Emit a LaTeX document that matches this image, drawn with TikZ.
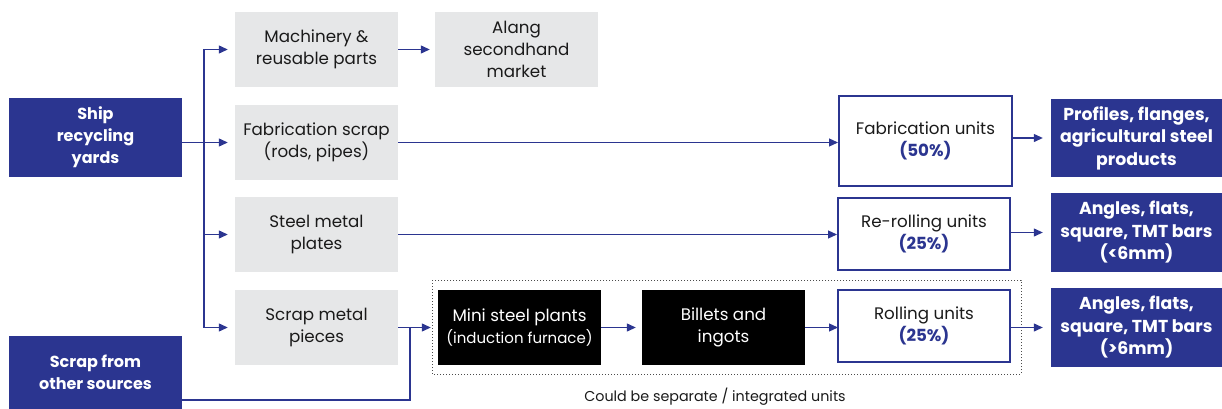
\documentclass[tikz,border=0pt]{standalone}
\usepackage{fontspec}
\setmainfont{Poppins}
\usetikzlibrary{arrows.meta}
\definecolor{navy}{HTML}{2B3590}
\definecolor{lgray}{HTML}{E6E7E8}
\definecolor{txt}{HTML}{1A1A1A}
\begin{document}
\begin{tikzpicture}[x=1pt,y=-1pt,
  font=\fontsize{16.7}{22}\selectfont,
  every node/.style={inner sep=0pt, align=center},
  gbox/.style={fill=lgray, text=txt, minimum width=163pt, minimum height=75pt},
  nbox/.style={fill=navy, text=white, font=\fontsize{16}{22}\selectfont\bfseries},
  pbox/.style={fill=navy, text=white, font=\fontsize{17.3}{22.5}\selectfont\bfseries},
  ubox/.style={draw=navy, line width=2pt, fill=white, text=txt},
  kbox/.style={fill=black, text=white, minimum width=163pt, minimum height=75pt},
  arr/.style={draw=navy, line width=1.2pt, -{Triangle[length=9pt,width=8pt]}},
  ln/.style={draw=navy, line width=1.2pt}
]
\useasboundingbox (0,0) rectangle (1222,409);
% dotted frame
\draw[dotted, line width=1pt, black!70] (432,280) rectangle (1021,374);
% left sources
\node[nbox, minimum width=173pt, minimum height=79pt] (ship) at (95.5,137.5) {Ship\\recycling\\yards};
\node[nbox, minimum width=173pt, minimum height=73pt] (other) at (95.5,372.5) {Scrap from\\other sources};
% gray boxes
\node[gbox] (mach) at (316.5,49.5) {Machinery \&\\reusable parts};
\node[gbox] (fab) at (316.5,142.5) {Fabrication scrap\\(rods, pipes)};
\node[gbox] (plates) at (316.5,234.5) {Steel metal\\plates};
\node[gbox] (pieces) at (316.5,327.5) {Scrap metal\\pieces};
\node[gbox] (alang) at (516.5,49.5) {Alang\\secondhand\\market};
% black boxes
\node[kbox] (mini) at (519.5,327.5) {Mini steel plants\\{\fontsize{15}{20}\selectfont(induction furnace)}};
\node[kbox] (billets) at (723.5,327.5) {Billets and\\ingots};
% unit boxes
\node[ubox, minimum width=173pt, minimum height=90pt] (fabu) at (925.5,141) {Fabrication units\\\textcolor{navy}{\bfseries(50\%)}};
\node[ubox, minimum width=172pt, minimum height=72pt] (rer) at (924,234) {Re-rolling units\\\textcolor{navy}{\bfseries(25\%)}};
\node[ubox, minimum width=172pt, minimum height=72pt] (roll) at (924,326) {Rolling units\\\textcolor{navy}{\bfseries(25\%)}};
% products
\node[pbox, minimum width=171pt, minimum height=78pt] (p1) at (1136.5,138) {Profiles, flanges,\\agricultural steel\\products};
\node[pbox, minimum width=171pt, minimum height=79pt] (p2) at (1136.5,232.5) {Angles, flats,\\square, TMT bars\\(<6mm)};
\node[pbox, minimum width=171pt, minimum height=79pt] (p3) at (1136.5,327.5) {Angles, flats,\\square, TMT bars\\(>6mm)};
% caption
\node[text=txt, font=\fontsize{14.3}{17}\selectfont] (cap) at (715,397) {Could be separate / integrated units};
% trunk
\coordinate (t1) at (204,49.5);
\coordinate (t4) at (204,327.5);
\draw[ln] (t1) -- (t4);
\draw[arr, shorten >=7pt] (t1) -- (mach.west);
\draw[arr, shorten >=7pt] (ship.east |- fab.west) -- (fab.west);
\draw[arr, shorten >=7pt] (t1 |- plates.west) -- (plates.west);
\draw[arr, shorten >=7pt] (t4) -- (pieces.west);
\draw[arr, shorten >=5pt] (mach.east) -- (alang.west);
\draw[arr] (fab.east) -- (fab.east -| fabu.west);
\draw[arr] (plates.east) -- (plates.east -| rer.west);
\draw[arr, shorten >=7pt] (pieces.east) -- (mini.west);
\coordinate (o) at (182,400);
\coordinate (j) at (410,327.5);
\draw[ln] (o) -| (j);
\draw[arr, shorten >=6pt] (mini.east) -- (billets.west);
\draw[arr, shorten >=-1pt] (billets.east) -- (billets.east -| roll.west);
\draw[arr, shorten >=8pt] (fabu.east |- p1.west) -- (p1.west);
\draw[arr, shorten >=8pt] (rer.east |- p2.west) -- (p2.west);
\draw[arr, shorten >=8pt] (roll.east |- p3.west) -- (p3.west);
\end{tikzpicture}
\end{document}
